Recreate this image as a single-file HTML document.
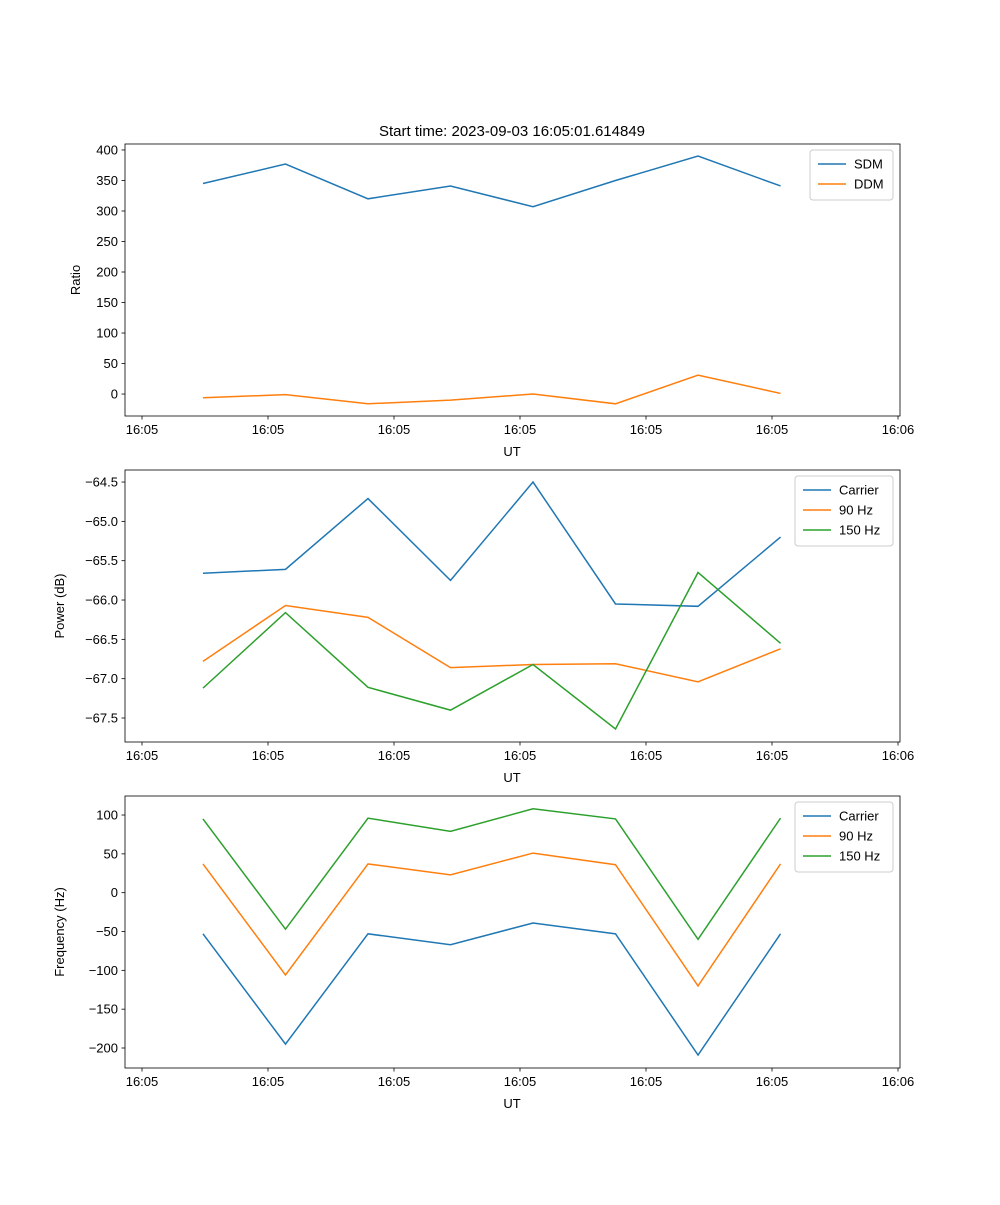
<!DOCTYPE html>
<html><head><meta charset="utf-8"><style>
body{margin:0;background:#fff;}
svg{font-family:"Liberation Sans","DejaVu Sans",sans-serif;}
</style></head><body>
<svg id="chart" width="1000" height="1200" xmlns="http://www.w3.org/2000/svg">
<rect width="1000" height="1200" fill="#fff"/>
<text x="512" y="136" font-size="15" text-anchor="middle">Start time: 2023-09-03 16:05:01.614849</text>
</svg>
<script>
const xTickLabels = ["16:05","16:05","16:05","16:05","16:05","16:05","16:06"];
const sdm = [345, 377, 320, 341, 307, 350, 390, 341];
const ddm = [-6, -1, -16, -10, 0, -16, 31, 1];
const pCarrier = [-65.66, -65.61, -64.71, -65.75, -64.5, -66.05, -66.08, -65.20];
const p90 = [-66.78, -66.07, -66.22, -66.86, -66.82, -66.81, -67.04, -66.62];
const p150 = [-67.12, -66.16, -67.11, -67.40, -66.82, -67.64, -65.65, -66.55];
const fCarrier = [-53, -195, -53, -67, -39, -53, -209, -53];
const f90 = [37, -106, 37, 23, 51, 36, -120, 37];
const f150 = [95, -47, 96, 79, 108, 95, -60, 96];
const ticks1 = [0,50,100,150,200,250,300,350,400];
const ticks2 = [-67.5,-67.0,-66.5,-66.0,-65.5,-65.0,-64.5];
const ticks3 = [-200,-150,-100,-50,0,50,100];

const svg = document.getElementById('chart');
const NS = "http://www.w3.org/2000/svg";
const COLORS = ["#1f77b4","#ff7f0e","#2ca02c"];
function el(tag, attrs, parent){const e=document.createElementNS(NS,tag);for(const k in attrs)e.setAttribute(k,attrs[k]);(parent||svg).appendChild(e);return e;}
const L=125,R=900;
const xMin=-0.945,xMax=8.448;
function xs(i){return L+(i-xMin)/(xMax-xMin)*(R-L);}

function panel(name, top, bottom, yMin, yMax, yTicks, fmt, ylabel, series, labels, legendW){
  const g=el('g',{});
  
  
  const ys=v=>bottom-(v-yMin)/(yMax-yMin)*(bottom-top);
  series.forEach((s,si)=>{
    const pts=s.map((v,i)=>xs(i).toFixed(2)+','+ys(v).toFixed(2)).join(' ');
    const pl=el('polyline',{points:pts,fill:'none',stroke:COLORS[si],'stroke-width':1.5},g);
    
    
  });
  const fr=el('rect',{x:L,y:top,width:R-L,height:bottom-top,fill:'none',stroke:'#000','stroke-width':0.8},g);
  
  
  yTicks.forEach(t=>{
    const y=ys(t);
    el('line',{x1:L-3.5,x2:L,y1:y,y2:y,stroke:'#000','stroke-width':0.8},g);
    const tx=el('text',{x:L-7,y:y+4.5,'font-size':13,'text-anchor':'end'},g);
    tx.textContent=fmt(t);
    
    
  });
  xTickLabels.forEach((lab,k)=>{
    const x=142+k*126;
    el('line',{x1:x,x2:x,y1:bottom,y2:bottom+3.5,stroke:'#000','stroke-width':0.8},g);
    const tx=el('text',{x:x,y:bottom+18,'font-size':13,'text-anchor':'middle'},g);
    tx.textContent=lab;
    
    
  });
  const xl=el('text',{x:512,y:bottom+40,'font-size':13,'text-anchor':'middle'},g);
  xl.textContent='UT';
  
  
  const yl=el('text',{x:0,y:0,'font-size':13,'text-anchor':'middle',transform:`translate(${name==='ratio'?80:64},${(top+bottom)/2}) rotate(-90)`},g);
  yl.textContent=ylabel;
  
  
  const lx=R-7-legendW, ly=top+6, lh=10+labels.length*20;
  const lg=el('g',{},g);
  
  
  el('rect',{x:lx,y:ly,width:legendW,height:lh,rx:3,fill:'#fff','fill-opacity':0.8,stroke:'#ccc'},lg);
  labels.forEach((lab,i)=>{
    const yy=ly+14+i*20;
    el('line',{x1:lx+8,x2:lx+36,y1:yy,y2:yy,stroke:COLORS[i],'stroke-width':1.5},lg);
    const t=el('text',{x:lx+44,y:yy+4.5,'font-size':13},lg);
    t.textContent=lab;
    
    
  });
}
panel('ratio',144,416,-36,409.8,ticks1,v=>String(v),'Ratio',[sdm,ddm],['SDM','DDM'],83);
panel('power',470,742,-67.805,-64.347,ticks2,v=>(v<0?'\u2212':'')+Math.abs(v).toFixed(1),'Power (dB)',[pCarrier,p90,p150],['Carrier','90 Hz','150 Hz'],98);
panel('frequency',796,1068,-225.75,124.5,ticks3,v=>(v<0?'\u2212':'')+Math.abs(v),'Frequency (Hz)',[fCarrier,f90,f150],['Carrier','90 Hz','150 Hz'],98);
</script>
</body></html>
